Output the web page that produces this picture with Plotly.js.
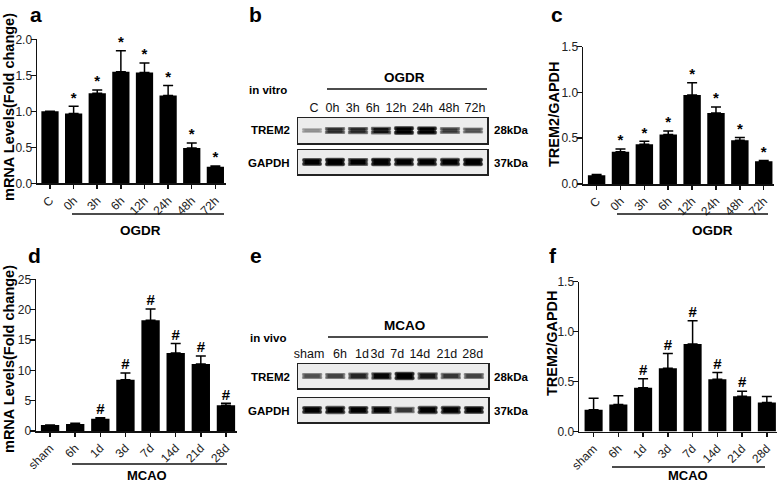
<!DOCTYPE html>
<html>
<head>
<meta charset="utf-8">
<script src="https://cdn.plot.ly/plotly-3.0.1.min.js"></script>
<style>html,body{margin:0;padding:0;background:#fff;}#chart{width:778px;height:485px;}</style>
</head>
<body>
<div id="chart"></div>
<script>
// ---------- data ----------
const catsVitro = ['C','0h','3h','6h','12h','24h','48h','72h'];
const catsVivo  = ['sham','6h','1d','3d','7d','14d','21d','28d'];

// panel a: mRNA fold change, OGDR
const meanA = [1.00, 0.97, 1.25, 1.55, 1.54, 1.22, 0.49, 0.23];
const semA  = [0.00, 0.10, 0.045, 0.29, 0.13, 0.14, 0.07, 0.01];
const sigA  = ['', '*', '*', '*', '*', '*', '*', '*'];

// panel c: TREM2/GAPDH, OGDR
const meanC = [0.095, 0.353, 0.433, 0.542, 0.972, 0.775, 0.477, 0.248];
const semC  = [0.008, 0.030, 0.033, 0.037, 0.135, 0.066, 0.030, 0.010];
const sigC  = ['', '*', '*', '*', '*', '*', '*', '*'];

// panel d: mRNA fold change, MCAO
const meanD = [1.00, 1.15, 2.03, 8.46, 18.24, 12.86, 11.04, 4.23];
const semD  = [0.00, 0.12, 0.17, 1.10, 1.86, 1.54, 1.32, 0.33];
const sigD  = ['', '', '#', '#', '#', '#', '#', '#'];

// panel f: TREM2/GAPDH, MCAO
const meanF = [0.217, 0.270, 0.437, 0.633, 0.877, 0.523, 0.353, 0.290];
const semF  = [0.116, 0.087, 0.090, 0.147, 0.233, 0.067, 0.050, 0.060];
const sigF  = ['', '', '#', '#', '#', '#', '#', ''];

// western blot band intensities (0..1)
const bandB_TREM2 = [0.30, 0.70, 0.72, 0.80, 1.00, 0.95, 0.65, 0.55];
const bandB_GAPDH = [0.92, 1.00, 0.88, 1.00, 0.95, 0.95, 0.95, 1.00];
const bandE_TREM2 = [0.55, 0.60, 0.72, 0.85, 1.00, 0.78, 0.65, 0.60];
const bandE_GAPDH = [0.92, 0.95, 0.92, 0.88, 0.65, 0.95, 0.95, 0.92];

// ---------- layout constants (label placement above the blot lanes) ----------
const laneLabelPosB = [0.09, 0.89, 1.77, 2.64, 3.65, 4.81, 5.96, 7.09];
const laneLabelPosE = [-0.13, 1.21, 2.16, 2.83, 3.68, 4.66, 5.83, 6.95];

// ---------- helpers ----------
const W = 778, H = 485;
const px = x => x / W;
const py = y => 1 - y / H;
const FONT = 'Liberation Sans, Arial, sans-serif';

function barTraces(xa, ya, yTicksAxis, cats, mean, sem, sig) {
  return [
    {
      type: 'bar', x: cats, y: mean, xaxis: xa, yaxis: ya,
      marker: {color: '#000', line: {width: 0}},
      error_y: {type: 'data', symmetric: false, array: sem, arrayminus: sem.map(() => 0),
                color: '#000', thickness: 1.5, width: 5},
      hoverinfo: 'skip', showlegend: false
    },
    {
      type: 'scatter', mode: 'text', x: cats, y: mean.map((m, i) => m + sem[i]),
      text: sig.map(s => s ? '<b>' + s + '</b>' : ''), textposition: 'top center', xaxis: xa, yaxis: ya,
      textfont: {family: FONT, size: 15, color: '#000'},
      cliponaxis: false, hoverinfo: 'skip', showlegend: false
    },
    // empty trace that makes the tick-mark overlay axis exist
    {type: 'scatter', mode: 'markers', x: [], y: [], xaxis: xa, yaxis: yTicksAxis,
     hoverinfo: 'skip', showlegend: false}
  ];
}

function gray(v) { const g = Math.round(215 * (1 - Math.min(1, v))); return `rgb(${g},${g},${g})`; }

// each band is drawn as three nested layers (outer halo -> dark core), split in upper/lower halves
function bandTraces(xa, ya, cats, inten) {
  const lane = cats.map((_, i) => i);
  const layers = [
    {w: 0.88, t: 1.00, c: 0.55},
    {w: 0.80, t: 0.80, c: 0.85},
    {w: 0.66, t: 0.62, c: 1.15}
  ];
  const out = [];
  layers.forEach(L => {
    [1, -1].forEach(sign => {
      out.push({
        type: 'bar', x: lane, y: inten.map(v => sign * (0.22 + 0.5 * v) * L.t / 2), base: 0,
        width: lane.map(() => L.w), xaxis: xa, yaxis: ya,
        marker: {color: inten.map(v => gray(v * L.c)), line: {width: 0}, cornerradius: '30%'},
        hoverinfo: 'skip', showlegend: false
      });
    });
  });
  return out;
}

const traces = [
  ...barTraces('x', 'y', 'y9', catsVitro, meanA, semA, sigA),
  ...barTraces('x2', 'y2', 'y10', catsVitro, meanC, semC, sigC),
  ...barTraces('x3', 'y3', 'y11', catsVivo, meanD, semD, sigD),
  ...barTraces('x4', 'y4', 'y12', catsVivo, meanF, semF, sigF),
  ...bandTraces('x5', 'y5', catsVitro, bandB_TREM2),
  ...bandTraces('x6', 'y6', catsVitro, bandB_GAPDH),
  ...bandTraces('x7', 'y7', catsVivo, bandE_TREM2),
  ...bandTraces('x8', 'y8', catsVivo, bandE_GAPDH)
];

// ---------- axes ----------
const tickFont = {family: FONT, size: 12, color: '#222'};
function xBar(x0, x1, r0, anchor) {
  return {domain: [px(x0), px(x1)], anchor: anchor, type: 'category', range: [r0, r0 + 8],
          showline: true, linecolor: '#111', linewidth: 1.5, ticks: 'outside', ticklen: 4,
          tickwidth: 1.5, tickcolor: '#111', tickangle: -45, tickfont: tickFont,
          showgrid: false, zeroline: false, fixedrange: true};
}
// label-carrying axis (short ticks so the labels sit close to the axis line)
function yBar(ytop, ybot, rmax, dt, fmt, anchor) {
  return {domain: [py(ybot), py(ytop)], anchor: anchor, range: [0, rmax], dtick: dt, tickformat: fmt,
          showline: true, linecolor: '#111', linewidth: 1.5, ticks: 'outside', ticklen: 1,
          tickwidth: 1.5, tickcolor: '#111', tickfont: tickFont,
          showgrid: false, zeroline: false, fixedrange: true};
}
// overlay axis that only draws the tick marks
function yTicks(over, anchor, rmax, dt) {
  return {overlaying: over, anchor: anchor, side: 'left', range: [0, rmax], dtick: dt,
          showline: false, ticks: 'outside', ticklen: 5, tickwidth: 1.5, tickcolor: '#111',
          showticklabels: false, showgrid: false, zeroline: false, fixedrange: true};
}
function xBlot(x0, x1, anchor, labels, labelPos) {
  const ax = {domain: [px(x0), px(x1)], anchor: anchor, type: 'linear', range: [-0.61, 7.61],
          side: 'top', showline: true, mirror: true, linecolor: '#222', linewidth: 1.5,
          ticks: '', tickangle: 0, showticklabels: !!labels,
          tickfont: {family: FONT, size: 12.5, color: '#111'},
          showgrid: false, zeroline: false, fixedrange: true};
  if (labels) { ax.tickmode = 'array'; ax.tickvals = labelPos; ax.ticktext = labels; }
  return ax;
}
function yBlot(ytop, ybot, anchor) {
  return {domain: [py(ybot), py(ytop)], anchor: anchor, range: [-1, 1],
          showline: true, mirror: true, linecolor: '#222', linewidth: 1.5,
          ticks: '', showticklabels: false, showgrid: false, zeroline: false, fixedrange: true};
}

const layout = {
  width: W, height: H, margin: {l: 0, r: 0, t: 0, b: 0},
  paper_bgcolor: '#fff', plot_bgcolor: 'rgba(0,0,0,0)',
  barmode: 'overlay', bargap: 0.27, showlegend: false,
  font: {family: FONT, color: '#000'},
  xaxis:  xBar(37, 226, -0.55, 'y'),
  yaxis:  yBar(39.3, 183.3, 2, 0.5, '.1f', 'x'),
  xaxis2: xBar(583, 774, -0.57, 'y2'),
  yaxis2: yBar(46.7, 184, 1.5, 0.5, '.1f', 'x2'),
  xaxis3: xBar(36, 237, -0.56, 'y3'),
  yaxis3: yBar(279.3, 431, 25, 5, 'd', 'x3'),
  xaxis4: xBar(579, 777, -0.59, 'y4'),
  yaxis4: yBar(281.7, 431.5, 1.5, 0.5, '.1f', 'x4'),
  yaxis9:  yTicks('y', 'x', 2, 0.5),
  yaxis10: yTicks('y2', 'x2', 1.5, 0.5),
  yaxis11: yTicks('y3', 'x3', 25, 5),
  yaxis12: yTicks('y4', 'x4', 1.5, 0.5),
  xaxis5: xBlot(298, 487, 'y5', catsVitro, laneLabelPosB),
  yaxis5: yBlot(118, 143, 'x5'),
  xaxis6: xBlot(298, 487, 'y6', null, null),
  yaxis6: yBlot(150, 174, 'x6'),
  xaxis7: xBlot(298, 488, 'y7', catsVivo, laneLabelPosE),
  yaxis7: yBlot(364, 388, 'x7'),
  xaxis8: xBlot(298, 488, 'y8', null, null),
  yaxis8: yBlot(398, 422, 'x8'),
  shapes: [],
  annotations: []
};

// blot backgrounds
[5, 6, 7, 8].forEach(n => layout.shapes.push({
  type: 'rect', xref: `x${n} domain`, yref: `y${n} domain`, x0: 0, x1: 1, y0: 0, y1: 1,
  fillcolor: '#ececec', line: {width: 0}, layer: 'below'
}));

// group underlines
function underline(x0, x1, y) {
  layout.shapes.push({type: 'line', xref: 'paper', yref: 'paper', x0: px(x0), x1: px(x1),
                      y0: py(y), y1: py(y), line: {color: '#111', width: 1.3}});
}
underline(72, 224, 214);
underline(617, 768, 214);
underline(72, 227, 464);
underline(612, 765, 467);
underline(327, 487, 89);
underline(328, 488, 337);

function ann(text, x, y, opts) {
  layout.annotations.push(Object.assign({
    text: text, x: px(x), y: py(y), xref: 'paper', yref: 'paper', showarrow: false,
    xanchor: 'center', yanchor: 'middle', font: {family: FONT, size: 13, color: '#000'}
  }, opts || {}));
}
const bold = s => '<b>' + s + '</b>';

// panel letters
const letterFont = {family: FONT, size: 21, color: '#000'};
[['a', 36, 1], ['b', 255, 1], ['c', 557, 1], ['d', 34, 242], ['e', 256, 242], ['f', 553, 242]]
  .forEach(([t, x, y]) => ann(bold(t), x, y, {yanchor: 'top', font: letterFont}));

// y axis titles
const ytFont = {family: FONT, size: 14.5, color: '#000'};
ann(bold('mRNA Levels(Fold change)'), 9, 107, {textangle: -90, font: ytFont});
ann(bold('mRNA Levels(Fold change)'), 9, 359, {textangle: -90, font: ytFont});
ann(bold('TREM2/GAPDH'), 554, 114, {textangle: -90, font: ytFont});
ann(bold('TREM2/GAPDH'), 552, 343, {textangle: -90, font: ytFont});

// group labels
const grpFont = {family: FONT, size: 13.5, color: '#000'};
ann(bold('OGDR'), 140, 230, {font: grpFont});
ann(bold('OGDR'), 712, 230, {font: grpFont});
ann(bold('MCAO'), 147, 485, {yanchor: 'bottom', font: {family: FONT, size: 13, color: '#000'}});
ann(bold('MCAO'), 688, 485, {yanchor: 'bottom', font: {family: FONT, size: 13, color: '#000'}});
ann(bold('OGDR'), 404, 78, {font: grpFont});
ann(bold('MCAO'), 404, 325, {font: grpFont});

// blot row labels
const rowFont = {family: FONT, size: 11.5, color: '#000'};
ann(bold('in vitro'), 289, 90, {xanchor: 'right', font: rowFont});
ann(bold('TREM2'), 292, 130, {xanchor: 'right', font: rowFont});
ann(bold('GAPDH'), 292, 163, {xanchor: 'right', font: rowFont});
ann(bold('28kDa'), 492, 130, {xanchor: 'left', font: rowFont});
ann(bold('37kDa'), 492, 163, {xanchor: 'left', font: rowFont});
ann(bold('in vivo'), 288, 338, {xanchor: 'right', font: rowFont});
ann(bold('TREM2'), 292, 377, {xanchor: 'right', font: rowFont});
ann(bold('GAPDH'), 292, 411, {xanchor: 'right', font: rowFont});
ann(bold('28kDa'), 492, 377, {xanchor: 'left', font: rowFont});
ann(bold('37kDa'), 492, 411, {xanchor: 'left', font: rowFont});

Plotly.newPlot('chart', traces, layout, {displayModeBar: false, staticPlot: true});
</script>
</body>
</html>
